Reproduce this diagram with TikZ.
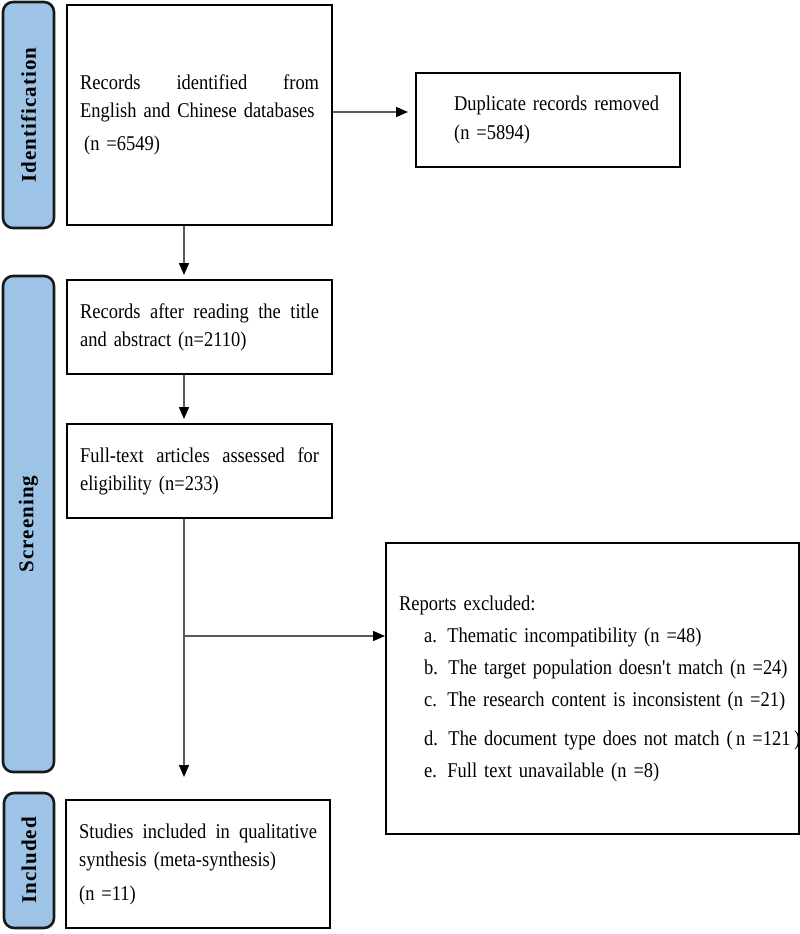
\documentclass[tikz,border=0pt]{standalone}
\usepackage{fontspec}
\setmainfont{Liberation Serif}[FakeStretch=0.88,WordSpace=0.85]
\newfontfamily\lblfont{Liberation Serif}[LetterSpace=5]
\usetikzlibrary{arrows.meta}
\definecolor{lblblue}{RGB}{157,195,230}
\definecolor{lnk}{RGB}{90,90,90}
\begin{document}
\begin{tikzpicture}[x=1pt,y=-1pt,
  phase/.style={draw=black!90,line width=2.6pt,fill=lblblue,rounded corners=10pt,
    rotate=90,inner sep=0pt,font=\lblfont\bfseries\fontsize{21}{24}\selectfont},
  stepbox/.style={draw=black,line width=2.2pt,anchor=north west,inner xsep=13pt,inner ysep=0pt,
    align=left,font=\fontsize{21}{28}\selectfont},
  conn/.style={draw=lnk,line width=1.4pt,-{Triangle[length=12pt,width=10pt,fill=black,color=black]}}
]
\useasboundingbox (0,0) rectangle (800,934);

% phase labels
\node[phase,minimum width=226pt,minimum height=51pt] (pid) at (28.5,115) {Identification};
\node[phase,minimum width=496pt,minimum height=51pt] (psc) at (28.5,524) {Screening};
\node[phase,minimum width=135pt,minimum height=50pt] (pin) at (29,860.5) {Included};

% boxes
\node[stepbox,text width=239pt,minimum height=220pt] (b1) at (66,4)
  {Records\hfill identified\hfill from\\English and Chinese databases\\[5pt]\hspace*{4pt}(n =6549)};
\node[stepbox,text width=238pt,minimum height=94pt,font=\fontsize{21}{29}\selectfont] (dup) at (415,72)
  {\hspace*{25pt}Duplicate records removed\\\hspace*{25pt}(n =5894)};
\node[stepbox,text width=239pt,minimum height=94pt] (b2) at (66,279)
  {Records\hfill after\hfill reading\hfill the\hfill title\\and abstract (n=2110)};
\node[stepbox,text width=239pt,minimum height=94pt] (b3) at (66,423)
  {Full-text\hfill articles\hfill assessed\hfill for\\eligibility (n=233)};
\node[stepbox,text width=238pt,minimum height=128pt] (b4) at (65,799)
  {Studies\hfill included\hfill in\hfill qualitative\\synthesis (meta-synthesis)\\[6pt](n =11)};
\node[stepbox,text width=387pt,minimum height=291pt,font=\fontsize{21}{32}\selectfont] (ex) at (385,542)
  {\mbox{Reports excluded:}\\
   \mbox{\hspace*{25pt}a. Thematic incompatibility (n =48)}\\
   \mbox{\hspace*{25pt}b. The target population doesn\textquotesingle t match (n =24)}\\
   \mbox{\hspace*{25pt}c. The research content is inconsistent (n =21)}\\[7pt]
   \mbox{\hspace*{25pt}d. The document type does not match (\,n =121\,)}\\
   \mbox{\hspace*{25pt}e. Full text unavailable (n =8)}};

% connectors
\coordinate (ax) at (184,0);
\coordinate (ay) at (0,112);
\coordinate (br) at (185,636);
\draw[conn,shorten >=7pt] (b1.east |- ay) -- (dup.west |- ay);
\draw[conn,shorten >=4pt] (b1.south -| ax) -- (b2.north -| ax);
\draw[conn,shorten >=4pt] (b2.south -| ax) -- (b3.north -| ax);
\draw[conn,shorten >=22pt] (b3.south -| ax) -- (b4.north -| ax);
\draw[conn] (br) -- (ex.west |- br);
\end{tikzpicture}
\end{document}
